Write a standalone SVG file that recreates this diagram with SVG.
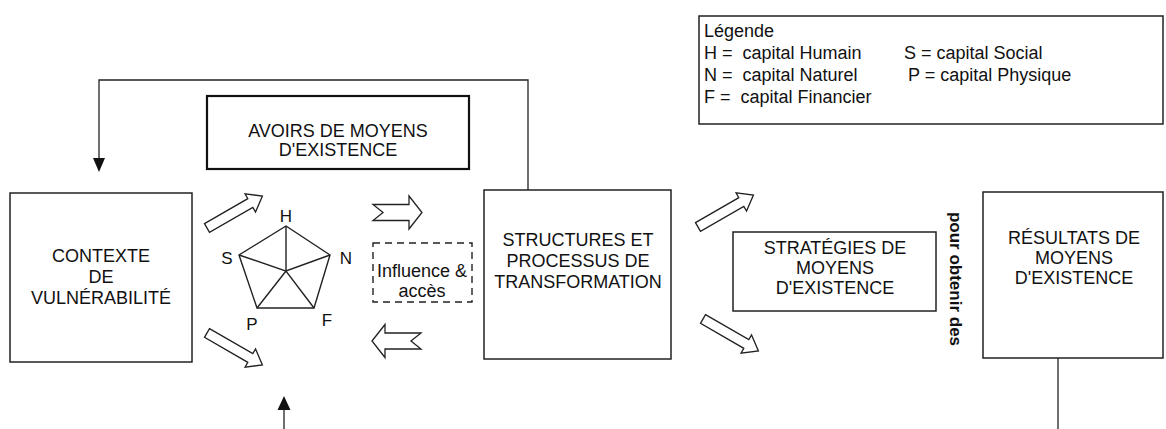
<svg xmlns="http://www.w3.org/2000/svg" width="1166" height="429" viewBox="0 0 1166 429">
<style>
text{font-family:"Liberation Sans",Arial,sans-serif;fill:#111;}
.t{font-size:18px;text-anchor:middle;}
.lg{font-size:18px;}
.lbl{font-size:17px;text-anchor:middle;}
.box{fill:#fff;stroke:#222;stroke-width:1.5;}
.thick{fill:#fff;stroke:#111;stroke-width:2.2;}
.dash{fill:none;stroke:#222;stroke-width:1.4;stroke-dasharray:7,5;}
.line{fill:none;stroke:#222;stroke-width:1.3;}
.ha{fill:#fff;stroke:#222;stroke-width:1.3;stroke-linejoin:miter;}
.pent{fill:none;stroke:#222;stroke-width:1.4;}
</style>
<defs>
<polygon id="diag" points="0,-5 50,-5 50,-10.5 64,0 50,10.5 50,5 0,5"/>
</defs>
<rect width="1166" height="429" fill="#fff"/>

<g id="connectors">
<polyline class="line" points="528,190 528,80 99,80 99,158"/>
<path d="M93,158 L105,158 L99,172 Z" fill="#111"/>
<line class="line" x1="284" y1="410" x2="284" y2="429"/>
<path d="M277.5,410 L290.5,410 L284,396 Z" fill="#111"/>
<line class="line" x1="1058" y1="358" x2="1058" y2="429"/>
<use href="#diag" class="ha" transform="translate(207,228) rotate(-30)"/>
<use href="#diag" class="ha" transform="translate(207,333) rotate(30)"/>
<use href="#diag" class="ha" transform="translate(698,227) rotate(-30)"/>
<use href="#diag" class="ha" transform="translate(703,319) rotate(30)"/>
<polygon class="ha" points="373,204.5 409,204.5 409,196 422,212.5 409,229 409,220.5 373,220.5 383,212.5"/>
<polygon class="ha" points="372,341 385,324.5 385,333 421,333 411,341 421,349 385,349 385,357.5"/>
</g>

<g id="legend">
<rect class="box" x="699" y="16" width="464" height="108" stroke-width="1.3"/>
<text class="lg" x="704" y="37">Légende</text>
<text class="lg" x="704" y="59" xml:space="preserve">H =  capital Humain</text>
<text class="lg" x="904" y="59">S = capital Social</text>
<text class="lg" x="908" y="81">P = capital Physique</text>
<text class="lg" x="704" y="81" xml:space="preserve">N =  capital Naturel</text>
<text class="lg" x="704" y="103" xml:space="preserve">F =  capital Financier</text>
</g>

<g id="contexte">
<rect class="box" x="10" y="193" width="182" height="169"/>
<text class="t" x="101" y="262">CONTEXTE</text>
<text class="t" x="101" y="283">DE</text>
<text class="t" x="101" y="304">VULNÉRABILITÉ</text>
</g>

<g id="avoirs">
<rect class="thick" x="207" y="96" width="262" height="73"/>
<text class="t" x="338" y="137">AVOIRS DE MOYENS</text>
<text class="t" x="338" y="156">D'EXISTENCE</text>
</g>

<g id="pentagone">
<polygon class="pent" points="286,226 330,255 314,308 257,308 239,255"/>
<polyline class="pent" points="286,226 286,271 330,255"/>
<polyline class="pent" points="239,255 286,271 314,308"/>
<line class="pent" x1="286" y1="271" x2="257" y2="308"/>
<text class="lbl" x="286" y="222">H</text>
<text class="lbl" x="346" y="264">N</text>
<text class="lbl" x="327" y="326">F</text>
<text class="lbl" x="252" y="330">P</text>
<text class="lbl" x="227" y="264">S</text>
</g>

<g id="influence">
<rect class="dash" x="373" y="243" width="99" height="59"/>
<text class="t" x="422" y="277">Influence &amp;</text>
<text class="t" x="422" y="297">accès</text>
</g>

<g id="structures">
<rect class="box" x="484" y="190" width="187" height="169"/>
<text class="t" x="578" y="246">STRUCTURES ET</text>
<text class="t" x="578" y="267">PROCESSUS DE</text>
<text class="t" x="578" y="288">TRANSFORMATION</text>
</g>

<g id="strategies">
<rect class="box" x="733" y="232" width="203" height="79"/>
<text class="t" x="835" y="254">STRATÉGIES DE</text>
<text class="t" x="835" y="274">MOYENS</text>
<text class="t" x="835" y="294">D'EXISTENCE</text>
</g>

<g id="pour">
<text transform="translate(950,279) rotate(90)" style="font-size:17px;font-weight:bold;text-anchor:middle;">pour obtenir des</text>
</g>

<g id="resultats">
<rect class="box" x="983" y="192" width="180" height="166"/>
<text class="t" x="1074" y="244">RÉSULTATS DE</text>
<text class="t" x="1074" y="264">MOYENS</text>
<text class="t" x="1074" y="284">D'EXISTENCE</text>
</g>
</svg>
